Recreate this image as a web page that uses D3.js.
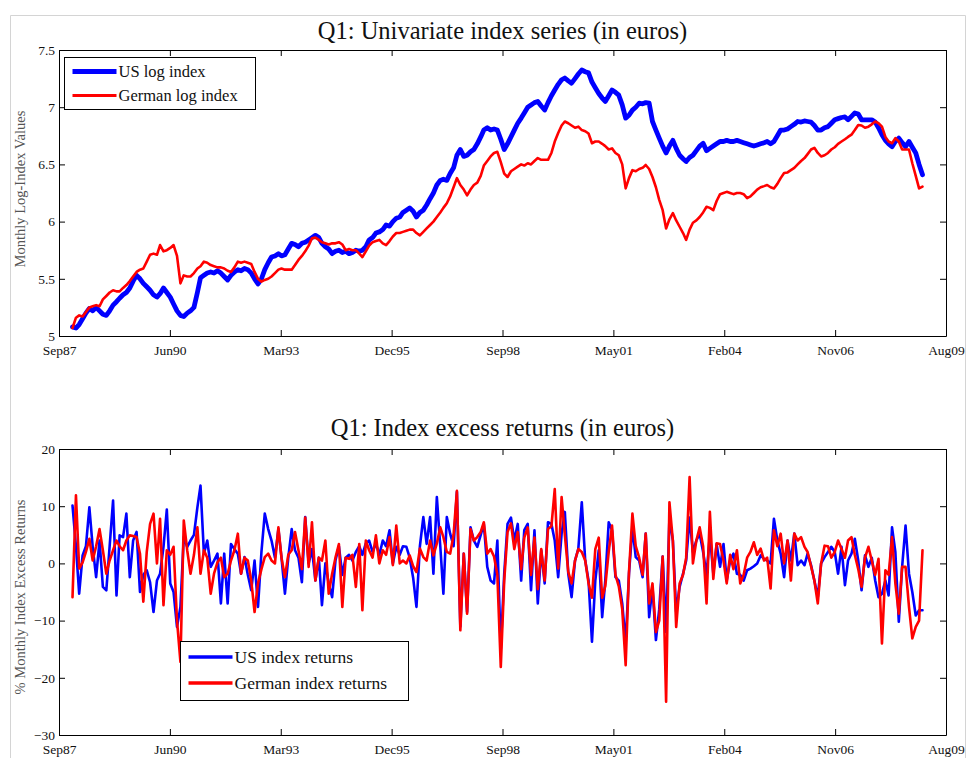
<!DOCTYPE html>
<html>
<head>
<meta charset="utf-8">
<script src="https://cdn.jsdelivr.net/npm/d3@7"></script>
<style>
  body { margin: 0; background: #fff; }
  svg { display: block; font-family: "Liberation Serif", "Times New Roman", serif; }
  svg text { font-family: "Liberation Serif", "Times New Roman", serif; }
</style>
</head>
<body>
<svg id="chart" width="968" height="758"></svg>
<script>
// Monthly observations, January 1988 through January 2009
const startYear = 1988;

const usLogIndex = [
  5.08, 5.07, 5.10, 5.15, 5.20, 5.24, 5.22, 5.25, 5.22, 5.19, 5.18, 5.22,
  5.27, 5.30, 5.33, 5.36, 5.38, 5.42, 5.48, 5.53, 5.50, 5.46, 5.43, 5.40,
  5.36, 5.34, 5.37, 5.42, 5.38, 5.34, 5.28, 5.22, 5.18, 5.17, 5.20, 5.22,
  5.25, 5.38, 5.51, 5.53, 5.55, 5.56, 5.55, 5.57, 5.55, 5.52, 5.49, 5.53,
  5.56, 5.58, 5.57, 5.59, 5.58, 5.55, 5.50, 5.455, 5.50, 5.58, 5.64, 5.69,
  5.70, 5.72, 5.70, 5.71, 5.76, 5.81, 5.80, 5.78, 5.81, 5.82, 5.84, 5.86,
  5.88, 5.86, 5.81, 5.78, 5.76, 5.72, 5.74, 5.75, 5.73, 5.74, 5.72, 5.73,
  5.75, 5.74, 5.75, 5.78, 5.84, 5.86, 5.90, 5.91, 5.93, 5.97, 5.96, 6.00,
  6.03, 6.04, 6.08, 6.10, 6.12, 6.09, 6.04, 6.08, 6.10, 6.145, 6.20, 6.25,
  6.32, 6.36, 6.37, 6.36, 6.42, 6.47, 6.58, 6.63, 6.57, 6.58, 6.61, 6.63,
  6.68, 6.74, 6.80, 6.82, 6.80, 6.81, 6.80, 6.72, 6.63, 6.68, 6.74, 6.80,
  6.86, 6.905, 6.95, 7.00, 7.02, 7.04, 7.05, 7.01, 6.975, 7.04, 7.10, 7.15,
  7.20, 7.24, 7.255, 7.23, 7.21, 7.25, 7.29, 7.325, 7.31, 7.30, 7.22, 7.17,
  7.12, 7.08, 7.05, 7.10, 7.15, 7.13, 7.105, 7.02, 6.905, 6.93, 6.975, 7.00,
  7.035, 7.03, 7.04, 7.035, 6.875, 6.80, 6.73, 6.66, 6.60, 6.66, 6.71, 6.64,
  6.58, 6.55, 6.525, 6.56, 6.58, 6.62, 6.66, 6.685, 6.62, 6.64, 6.66, 6.68,
  6.70, 6.70, 6.71, 6.70, 6.70, 6.71, 6.70, 6.69, 6.68, 6.67, 6.66, 6.67,
  6.68, 6.69, 6.70, 6.68, 6.70, 6.75, 6.80, 6.80, 6.81, 6.83, 6.85, 6.875,
  6.87, 6.88, 6.875, 6.87, 6.84, 6.80, 6.80, 6.82, 6.83, 6.86, 6.89, 6.90,
  6.91, 6.915, 6.89, 6.92, 6.95, 6.94, 6.89, 6.89, 6.89, 6.89, 6.87, 6.82,
  6.76, 6.71, 6.68, 6.655, 6.70, 6.73, 6.69, 6.655, 6.70, 6.65, 6.60, 6.50,
  6.41
];

const deLogIndex = [
  5.07, 5.16, 5.18, 5.17, 5.21, 5.25, 5.26, 5.27, 5.26, 5.32, 5.35, 5.38,
  5.40, 5.39, 5.39, 5.42, 5.445, 5.48, 5.52, 5.56, 5.58, 5.59, 5.65, 5.71,
  5.72, 5.71, 5.795, 5.74, 5.75, 5.77, 5.795, 5.70, 5.46, 5.53, 5.52, 5.52,
  5.55, 5.59, 5.61, 5.65, 5.64, 5.62, 5.61, 5.60, 5.60, 5.59, 5.57, 5.56,
  5.60, 5.65, 5.64, 5.65, 5.64, 5.63, 5.56, 5.50, 5.475, 5.49, 5.50, 5.52,
  5.55, 5.58, 5.59, 5.58, 5.58, 5.58, 5.62, 5.665, 5.70, 5.74, 5.79, 5.855,
  5.86, 5.84, 5.82, 5.81, 5.80, 5.81, 5.81, 5.82, 5.80, 5.75, 5.76, 5.75,
  5.75, 5.72, 5.69, 5.74, 5.79, 5.82, 5.83, 5.84, 5.81, 5.795, 5.83, 5.87,
  5.90, 5.90, 5.91, 5.92, 5.93, 5.93, 5.90, 5.88, 5.91, 5.94, 5.97, 6.00,
  6.04, 6.08, 6.12, 6.16, 6.22, 6.30, 6.38, 6.32, 6.28, 6.23, 6.28, 6.32,
  6.34, 6.40, 6.49, 6.53, 6.57, 6.60, 6.61, 6.52, 6.42, 6.39, 6.44, 6.46,
  6.48, 6.50, 6.49, 6.51, 6.50, 6.53, 6.555, 6.54, 6.54, 6.54, 6.60, 6.70,
  6.775, 6.84, 6.875, 6.86, 6.84, 6.82, 6.83, 6.80, 6.79, 6.77, 6.685, 6.70,
  6.70, 6.68, 6.66, 6.63, 6.64, 6.60, 6.58, 6.50, 6.29, 6.38, 6.45, 6.44,
  6.46, 6.47, 6.495, 6.46, 6.39, 6.30, 6.19, 6.10, 5.94, 6.02, 6.075, 6.01,
  5.955, 5.90, 5.84, 5.93, 5.99, 6.01, 6.04, 6.08, 6.13, 6.12, 6.10, 6.18,
  6.24, 6.25, 6.26, 6.25, 6.24, 6.25, 6.25, 6.24, 6.205, 6.22, 6.25, 6.28,
  6.30, 6.31, 6.32, 6.30, 6.29, 6.33, 6.38, 6.425, 6.43, 6.45, 6.47, 6.50,
  6.53, 6.555, 6.59, 6.63, 6.645, 6.60, 6.57, 6.58, 6.60, 6.63, 6.65, 6.68,
  6.70, 6.72, 6.74, 6.76, 6.80, 6.845, 6.84, 6.82, 6.83, 6.85, 6.875, 6.86,
  6.83, 6.74, 6.70, 6.685, 6.73, 6.70, 6.63, 6.63, 6.63, 6.51, 6.40, 6.29,
  6.305
];

const usReturns = [
  10.1, 3.0, -5.3, 1.4, 3.0, 9.8, 2.9, -2.4, 4.0, -4.1, -4.7, 3.0,
  11.0, -5.6, 4.9, 4.6, 8.7, -2.4, 4.0, 5.5, -5.0, -2.0, -1.2, -3.3,
  -8.5, -3.0, -1.8, 2.9, 9.4, -3.5, -5.0, -11.1, -7.6, 4.6, 2.9, 4.0,
  5.0, 9.8, 13.6, 1.7, 4.0, -0.6, 0.5, 1.7, -7.0, 1.7, -7.0, 3.4,
  2.5, 1.7, -1.8, 1.1, -2.0, -4.7, 0.5, -7.6, 2.0, 8.7, 6.0, 4.0,
  1.0, 6.0, 1.0, -5.3, 1.0, 6.0, 2.3, 1.0, -3.3, 8.1, 0.0, 2.5,
  -3.0, 1.0, -7.3, 0.0, -3.5, -5.9, 0.5, 3.0, -2.0, 1.0, 1.5, 0.5,
  2.0, 3.0, 1.5, 3.5, 4.0, 2.0, 3.5, 1.5, 4.0, 3.0, 5.8, 0.0,
  2.9, 1.5, 3.0, 2.9, 1.0, -2.5, -7.6, 3.0, 8.1, 3.4, 8.1, -1.8,
  11.6, 3.0, -5.3, 8.1, 5.2, 3.0, 12.5, -11.0, 1.7, -8.5, 6.3, 4.0,
  2.9, 5.0, 6.9, -0.6, -3.0, -3.5, 4.0, -15.0, -1.8, 6.9, 8.0, 4.0,
  6.9, -3.0, 5.8, 6.9, -4.7, 5.8, -7.0, 2.3, -3.5, 7.2, 6.9, 4.0,
  -2.4, 5.2, 9.0, -1.8, -5.9, 0.5, 2.6, 10.7, 0.5, -3.0, -13.7, -3.0,
  2.3, -9.4, -3.0, 7.2, 5.8, -2.4, -3.0, -7.0, -14.0, -1.8, 6.3, 1.1,
  0.5, -2.4, 5.2, -9.4, -4.1, -13.4, -8.0, 1.2, -12.0, 8.0, 4.0, -8.5,
  -4.1, -1.8, 0.5, 8.0, 2.0, 4.0, 5.2, 2.0, -2.0, 5.0, -1.8, 3.4,
  -0.6, 3.4, -3.0, 0.5, 1.7, -1.8, -2.0, -3.0, -1.2, -0.9, -0.5, 0.0,
  1.4, 0.8, 0.5, 0.0, 7.8, 4.0, 1.7, -2.4, 4.0, 0.5, 5.2, -0.3,
  0.5, -0.3, 1.7, -0.3, -3.0, -5.9, 0.0, 1.1, 2.0, 2.9, 2.0, -1.8,
  2.9, -3.8, 0.5, 1.7, 4.3, 0.5, -4.7, 1.4, -0.6, 1.0, -3.0, -5.9,
  -5.3, -3.0, -5.6, 6.3, 2.0, -10.2, -0.6, 6.6, -1.8, -5.0, -9.1, -8.2,
  -8.2
];

const deReturns = [
  -5.9, 11.9, -0.9, 0.2, 2.0, 4.3, 0.5, 3.0, 6.0, 2.3, -1.8, 0.5,
  2.3, 4.0, 3.0, 2.3, 4.0, 4.9, 4.8, 4.6, 1.7, -6.7, 2.0, 6.9,
  8.7, 0.0, 7.8, -7.3, 2.3, 1.5, 2.9, -10.0, -17.2, 7.5, 2.3, -1.8,
  1.5, 6.3, -1.8, 2.3, 1.0, -5.3, -1.8, 0.2, 1.0, -2.4, -1.8, 0.5,
  2.3, 5.2, -1.8, 1.0, 0.5, -3.0, -8.5, -3.5, -1.0, 1.1, 1.7, 0.5,
  0.0, 6.3, 1.0, -2.4, 1.5, 2.3, 5.5, 2.3, -1.0, 8.0, -0.6, 7.2,
  -3.0, 1.0, 0.5, 4.0, -5.3, -1.8, 1.0, 3.4, -7.6, 1.0, 0.8, 1.5,
  -4.1, 3.4, -8.2, 4.0, 2.3, 1.0, 4.9, 0.0, 2.3, 1.5, 4.6, -0.3,
  6.6, 0.0, 0.5, 0.0, 1.4, -0.5, -1.5, 2.6, 1.1, 0.5, 4.0, 1.4,
  3.5, 6.3, 4.6, 2.0, 1.7, 5.0, 12.7, -11.7, 1.7, -8.8, 6.0, 4.0,
  4.6, 5.5, 7.2, 1.7, 2.5, 1.2, -2.0, -18.1, -3.0, 5.5, 7.0, 2.5,
  5.5, -1.0, 4.5, 6.3, -2.0, 4.5, -4.5, 2.5, -3.0, 6.0, 6.5, 13.0,
  -0.9, 11.6, 5.0, -1.5, -3.5, 0.5, 2.5, 2.0, 0.5, -3.5, -6.0, 2.5,
  4.5, -6.0, -4.0, 2.0, 6.6, -2.0, -4.0, -8.0, -17.8, -1.5, 8.7, 3.0,
  1.0, -2.0, 5.2, -7.0, -3.5, -12.0, -10.0, 1.2, -24.2, 10.7, 4.0, -11.1,
  -3.5, -2.0, 1.0, 15.1, 0.0, 4.0, 6.3, 3.0, -7.0, 9.0, -2.7, 3.5,
  3.4, 0.5, -3.5, 1.5, -1.0, 2.3, -3.5, -2.0, 1.0, 2.0, 3.7, 1.5,
  2.6, 0.5, 1.0, -4.4, 5.8, 3.0, 5.2, 0.0, 4.0, -3.0, 5.2, 4.0,
  4.6, 2.9, 2.0, -0.5, -3.0, -7.0, 0.0, 3.1, 3.0, 1.0, 2.0, 4.0,
  2.5, 1.0, 4.0, 4.6, 1.5, -1.0, -4.1, 1.0, 2.9, 0.5, -2.0, 0.8,
  -14.0, -1.2, -2.0, 4.6, -3.5, -8.8, -0.6, -0.6, -7.6, -13.1, -11.1, -10.0,
  2.3
];

const xTickLabels = ["Sep87", "Jun90", "Mar93", "Dec95", "Sep98", "May01", "Feb04", "Nov06", "Aug09"];
const topYTicks = [5, 5.5, 6, 6.5, 7, 7.5];
const bottomYTicks = [-30, -20, -10, 0, 10, 20];

const dates = usLogIndex.map((_, i) => new Date(startYear, i, 1));
const serif = '"Liberation Serif", "Times New Roman", serif';

const svg = d3.select("#chart");

// light figure frame
svg.append("path")
  .attr("d", "M10.5,758 L10.5,15.5 L965.5,15.5 L965.5,758")
  .attr("fill", "none").attr("stroke", "#d4d4d4").attr("stroke-width", 1);

const xDomain = [new Date(1987, 8, 1), new Date(2009, 7, 1)];
const xTickValues = d3.range(xTickLabels.length).map(k =>
  new Date(+xDomain[0] + k * (xDomain[1] - xDomain[0]) / (xTickLabels.length - 1)));

function drawPanel(cfg) {
  const { top, bottom, left, right, yDomain, yTicks, yFormat, title, titleY, titleSize,
          yLabel, yLabelCenter, series, legend } = cfg;
  const x = d3.scaleTime().domain(xDomain).range([left, right]);
  const y = d3.scaleLinear().domain(yDomain).range([bottom, top]);
  const g = svg.append("g");

  const tickLen = -6;
  const styleAxis = sel => {
    sel.attr("font-family", serif).attr("font-size", 13.5);
    sel.selectAll("path.domain").attr("stroke", "#000").attr("stroke-width", 1);
    sel.selectAll(".tick line").attr("stroke", "#000");
    sel.selectAll("text").style("font-family", serif).style("font-size", "13.5px").attr("fill", "#111");
  };
  const labels = {};
  xTickValues.forEach((d, k) => labels[+d] = xTickLabels[k]);

  g.append("g").attr("transform", `translate(0,${bottom})`)
    .call(d3.axisBottom(x).tickValues(xTickValues).tickFormat(d => labels[+d])
      .tickSizeInner(tickLen).tickSizeOuter(0).tickPadding(9))
    .call(styleAxis);
  g.append("g").attr("transform", `translate(0,${top})`)
    .call(d3.axisTop(x).tickValues(xTickValues).tickFormat("").tickSizeInner(tickLen).tickSizeOuter(0))
    .call(styleAxis);
  g.append("g").attr("transform", `translate(${left},0)`)
    .call(d3.axisLeft(y).tickValues(yTicks).tickFormat(yFormat)
      .tickSizeInner(tickLen).tickSizeOuter(0).tickPadding(4))
    .call(styleAxis);
  g.append("g").attr("transform", `translate(${right},0)`)
    .call(d3.axisRight(y).tickValues(yTicks).tickFormat("").tickSizeInner(tickLen).tickSizeOuter(0))
    .call(styleAxis);

  g.append("text").attr("x", (left + right) / 2).attr("y", titleY)
    .attr("text-anchor", "middle").style("font-family", serif).style("font-size", titleSize + "px")
    .attr("fill", "#111").text(title);

  g.append("text")
    .attr("transform", `translate(25,${yLabelCenter}) rotate(-90)`)
    .attr("text-anchor", "middle").style("font-family", serif).style("font-size", "14.5px")
    .attr("fill", "#555").text(yLabel);

  const clipId = "clip" + Math.round(top);
  g.append("clipPath").attr("id", clipId).append("rect")
    .attr("x", left).attr("y", top).attr("width", right - left).attr("height", bottom - top);

  const line = d3.line().x((d, i) => x(dates[i])).y(d => y(d));
  series.forEach(s => {
    g.append("path").datum(s.values)
      .attr("clip-path", `url(#${clipId})`)
      .attr("fill", "none").attr("stroke", s.color).attr("stroke-width", s.width)
      .attr("stroke-linejoin", "round").attr("stroke-linecap", "round")
      .attr("d", line);
  });

  // legend box
  const lg = g.append("g");
  lg.append("rect").attr("x", legend.x).attr("y", legend.y)
    .attr("width", legend.w).attr("height", legend.h)
    .attr("fill", "#fff").attr("stroke", "#000").attr("stroke-width", 1);
  series.forEach((s, k) => {
    const ly = legend.y + legend.first + k * legend.step;
    lg.append("line").attr("x1", legend.x + 8).attr("x2", legend.x + 52)
      .attr("y1", ly).attr("y2", ly)
      .attr("stroke", s.color).attr("stroke-width", s.legendWidth);
    lg.append("text").attr("x", legend.x + 54).attr("y", ly + 5.5)
      .style("font-family", serif).style("font-size", legend.fontSize + "px")
      .attr("fill", "#111").text(s.name);
  });
}

drawPanel({
  top: 50, bottom: 336, left: 59, right: 946,
  yDomain: [5, 7.5], yTicks: topYTicks, yFormat: d3.format("~g"),
  title: "Q1: Univariate index series (in euros)", titleY: 39, titleSize: 24.5,
  yLabel: "Monthly Log-Index Values", yLabelCenter: 189,
  series: [
    { name: "US log index", values: usLogIndex, color: "#0000ff", width: 4.8, legendWidth: 5 },
    { name: "German log index", values: deLogIndex, color: "#ff0000", width: 2.6, legendWidth: 3 }
  ],
  legend: { x: 64.5, y: 57.5, w: 191, h: 52, first: 14, step: 24, fontSize: 16.5 }
});

drawPanel({
  top: 449, bottom: 735, left: 59, right: 946,
  yDomain: [-30, 20], yTicks: bottomYTicks, yFormat: d3.format("d"),
  title: "Q1: Index excess returns (in euros)", titleY: 436, titleSize: 24.5,
  yLabel: "% Monthly Index Excess Returns", yLabelCenter: 597,
  series: [
    { name: "US index returns", values: usReturns, color: "#0000ff", width: 2.6, legendWidth: 3.5 },
    { name: "German index returns", values: deReturns, color: "#ff0000", width: 2.6, legendWidth: 3.5 }
  ],
  legend: { x: 180.5, y: 641.5, w: 228, h: 59, first: 15.5, step: 26, fontSize: 17.5 }
});
</script>
</body>
</html>
